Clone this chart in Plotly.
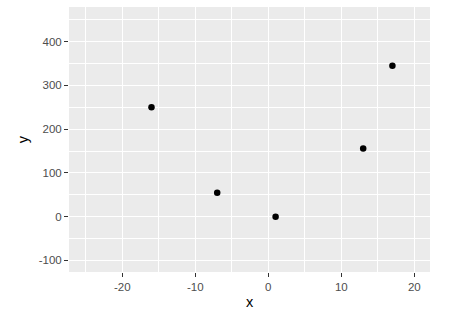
import plotly.graph_objects as go

x_vals = [-16, -7, 1, 13, 17]
y_vals = [250, 55, 0, 156, 345]
x_ticks = [-20, -10, 0, 10, 20]
y_ticks = [-100, 0, 100, 200, 300, 400]

fig = go.Figure(go.Scatter(
    x=x_vals, y=y_vals, mode="markers",
    marker=dict(color="black", size=6.5, line=dict(width=0)),
    showlegend=False, hoverinfo="skip"))

font = "Liberation Sans, Arial, sans-serif"
fig.update_layout(
    width=450, height=318,
    margin=dict(l=69, r=20, t=7, b=46),
    paper_bgcolor="white", plot_bgcolor="#EBEBEB",
    font=dict(family=font),
)
fig.update_xaxes(
    range=[-27.3, 22.15], tickvals=x_ticks, ticktext=[str(v) for v in x_ticks],
    showgrid=True, gridcolor="white", gridwidth=1.1, zeroline=False,
    minor=dict(tickvals=[-25, -15, -5, 5, 15], showgrid=True, gridcolor="white", gridwidth=0.6),
    ticks="outside", ticklen=4, tickwidth=1, tickcolor="#333333",
    tickfont=dict(size=11.5, color="#4D4D4D", family=font),
    title=dict(text="x", font=dict(size=14.5, color="black", family=font), standoff=5),
    showline=False,
)
fig.update_yaxes(
    range=[-126.4, 479.3], tickvals=y_ticks, ticktext=[str(v) for v in y_ticks],
    showgrid=True, gridcolor="white", gridwidth=1.1, zeroline=False,
    minor=dict(tickvals=[-50, 50, 150, 250, 350, 450], showgrid=True, gridcolor="white", gridwidth=0.6),
    ticks="outside", ticklen=4, tickwidth=1, tickcolor="#333333",
    tickfont=dict(size=11.5, color="#4D4D4D", family=font),
    title=dict(text="y", font=dict(size=14.5, color="black", family=font), standoff=6),
    showline=False,
)
fig.write_html("out.html")
